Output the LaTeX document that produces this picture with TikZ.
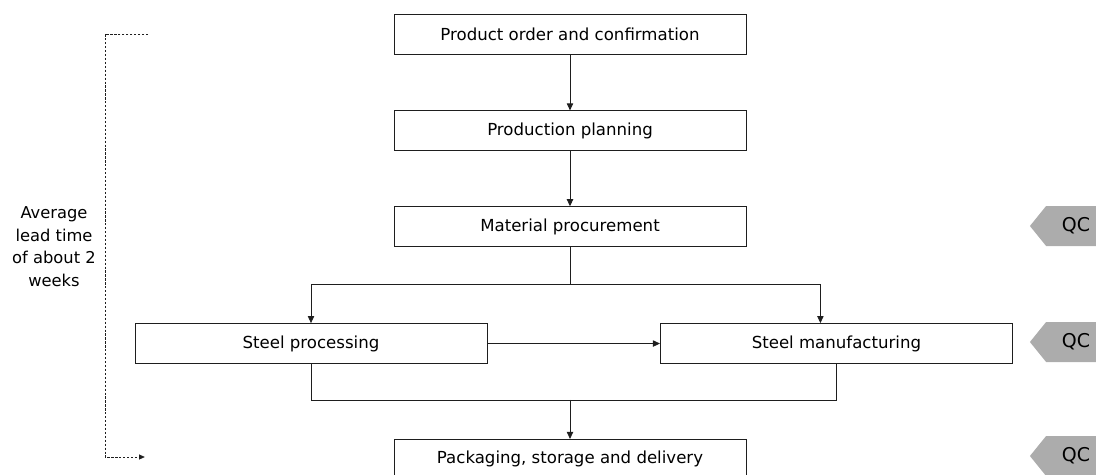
\documentclass[tikz,border=0pt]{standalone}
\usepackage{fontspec}
\setmainfont{DejaVu Sans}
\usepackage{tikz}
\usetikzlibrary{arrows.meta, positioning, shapes.symbols, calc}
\definecolor{lineDark}{RGB}{30, 30, 30}
\definecolor{tagGray}{RGB}{172, 172, 172}

\begin{document}
\begin{tikzpicture}[
    node distance=1.4cm,
    flowBox/.style={rectangle, draw=lineDark, fill=white, minimum width=8.8cm, minimum height=1.0cm, font=\fontsize{11.8}{14}\selectfont, align=center, line width=0.6pt},
    flowArrow/.style={-{Triangle[length=5pt, width=4.5pt]}, line width=0.6pt, draw=lineDark},
    flowLine/.style={line width=0.6pt, draw=lineDark},
    leadLine/.style={line width=0.5pt, draw=lineDark, dash pattern=on 1.6pt off 1.2pt},
    qcTag/.style={signal, signal to=west, signal pointer angle=102, fill=tagGray, minimum width=1.9cm, minimum height=1.0cm, font=\fontsize{13.5}{14}\selectfont, inner sep=0pt}
  ]
    \useasboundingbox (0,0) rectangle (27.4,11.85);

    % Main chain
    \node[flowBox] (order) at (14.25,11.0) {Product order and confirmation};
    \node[flowBox, below=1.4cm of order] (plan) {Production planning};
    \node[flowBox, below=1.375cm of plan] (mat) {Material procurement};

    % Parallel steel steps
    \node[flowBox, below=1.9cm of mat, xshift=-6.475cm] (proc) {Steel processing};
    \node[flowBox, below=1.9cm of mat, xshift=6.66cm] (mfg) {Steel manufacturing};

    % Final step
    \node[flowBox, below=1.875cm of proc, xshift=6.475cm] (pack) {Packaging, storage and delivery};

    % Split and merge points
    \coordinate[below=0.925cm of mat] (split);
    \coordinate[below=0.9cm of proc] (merge);

    \draw[flowArrow] (order) -- (plan);
    \draw[flowArrow] (plan) -- (mat);

    \draw[flowLine] (mat) -- (split);
    \draw[flowArrow] (split) -| (proc);
    \draw[flowArrow] (split) -| ([xshift=-0.4cm]mfg.north);

    \draw[flowArrow] (proc) -- (mfg);

    \draw[flowLine] (proc) -- (merge) -| (mfg);
    \draw[flowArrow] (merge -| pack.north) -- (pack);

    % Lead time bracket
    \coordinate (bTopEnd) at (3.7,11.0);
    \coordinate (bTop) at (2.625,11.0);
    \coordinate (bBot) at (2.625,0.425);
    \coordinate (bEnd) at (3.62,0.425);
    \draw[leadLine, -{Triangle[length=4pt, width=3.5pt]}] (bTopEnd) -- (bTop) -- (bBot) -- (bEnd);
    \node[font=\fontsize{11.6}{16}\selectfont, align=center] (lead) at (1.35,5.68) {Average\\lead time\\of about 2\\weeks};

    % Quality control tags
    \node[qcTag] (qcMat) at (26.9,6.2) {QC};
    \node[qcTag] (qcSteel) at (26.9,3.3) {QC};
    \node[qcTag] (qcPack) at (26.9,0.45) {QC};
  \end{tikzpicture}
\end{document}
